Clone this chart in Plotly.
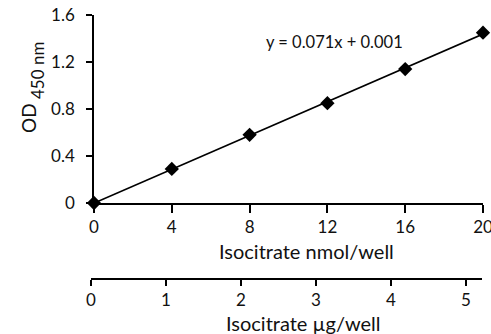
import numpy as np
import plotly.graph_objects as go

# Data
nmol = [0, 4, 8, 12, 16, 20]
od450 = [0.0, 0.29, 0.58, 0.85, 1.14, 1.45]
x_ticks = [0, 4, 8, 12, 16, 20]
y_ticks = [0, 0.4, 0.8, 1.2, 1.6]
ug_ticks = [0, 1, 2, 3, 4, 5]
equation = "y = 0.071x + 0.001"
x_title = "Isocitrate nmol/well"
x2_title = "Isocitrate µg/well"

slope, intercept = np.polyfit(nmol, od450, 1)
fit_x = [min(nmol), max(nmol)]
fit_y = [slope * v + intercept for v in fit_x]

FONT = "Lato, Carlito, Calibri, sans-serif"
W, H = 491, 334
L, R, T, B = 91, 8, 15, 55
pw = W - L - R
ph = H - T - B

x0_px = 94
y0_px = 203
ax2_end_px = 482
ax2_unit_px = 75.0

def px(xp):
    return (xp - L) / pw

def py(yp):
    return (H - B - yp) / ph

fig = go.Figure()
fig.add_trace(go.Scatter(x=fit_x, y=fit_y, mode="lines",
                         line=dict(color="black", width=1.6),
                         hoverinfo="skip", showlegend=False, cliponaxis=False))
fig.add_trace(go.Scatter(x=nmol, y=od450, mode="markers",
                         marker=dict(symbol="diamond", size=11, color="black"),
                         showlegend=False, cliponaxis=False))
# invisible trace on secondary x-axis to activate it
fig.add_trace(go.Scatter(x=[ug_ticks[0]], y=[0], xaxis="x2", yaxis="y",
                         mode="markers", marker=dict(opacity=0),
                         hoverinfo="skip", showlegend=False))

TICKFONT = dict(size=17, color="#111")
fig.update_layout(
    width=W, height=H,
    margin=dict(l=L, r=R, t=T, b=B, autoexpand=False),
    paper_bgcolor="white", plot_bgcolor="rgba(0,0,0,0)",
    font=dict(family=FONT, size=17, color="#111"),
    xaxis=dict(domain=[px(x0_px), 1], range=[0, 20], tickvals=x_ticks,
               showline=True, linecolor="black", linewidth=1.5,
               ticks="outside", ticklen=8, tickwidth=1.5, tickcolor="black",
               showgrid=False, zeroline=False, automargin=False,
               anchor="y", tickfont=TICKFONT, ticklabeloverflow="allow"),
    yaxis=dict(domain=[py(y0_px), 1], range=[0, 1.6], tickvals=y_ticks,
               showline=True, linecolor="black", linewidth=1.5,
               ticks="outside", ticklen=6, tickwidth=1.5, tickcolor="black",
               showgrid=False, zeroline=False, automargin=False,
               tickfont=TICKFONT, ticklabelstandoff=8, ticklabeloverflow="allow"),
    xaxis2=dict(domain=[0, px(ax2_end_px)],
                range=[0, (ax2_end_px - L) / ax2_unit_px], tickvals=ug_ticks,
                anchor="free", position=0,
                showline=True, linecolor="black", linewidth=1.5,
                ticks="outside", ticklen=6, tickwidth=1.5, tickcolor="black",
                showgrid=False, zeroline=False, automargin=False,
                tickfont=TICKFONT, ticklabeloverflow="allow"),
    annotations=[
        dict(text=x_title, xref="paper", yref="paper",
             x=px(306), y=py(251), showarrow=False,
             font=dict(size=20), xanchor="center", yanchor="middle"),
        dict(text=x2_title, xref="paper", yref="paper",
             x=px(303), y=py(323), showarrow=False,
             font=dict(size=20), xanchor="center", yanchor="middle"),
        dict(text="OD", textangle=-90, xref="paper", yref="paper",
             x=px(28), y=py(118), showarrow=False,
             font=dict(size=19), xanchor="center", yanchor="middle"),
        dict(text="450 nm", textangle=-90, xref="paper", yref="paper",
             x=px(37), y=py(71), showarrow=False,
             font=dict(size=17), xanchor="center", yanchor="middle"),
        dict(text=equation, xref="paper", yref="paper",
             x=px(334), y=py(42), showarrow=False,
             font=dict(size=16.5), xanchor="center", yanchor="middle"),
    ],
)

fig.write_html("out.html", config={"displayModeBar": False},
               post_script="document.body.style.margin='0px';")
